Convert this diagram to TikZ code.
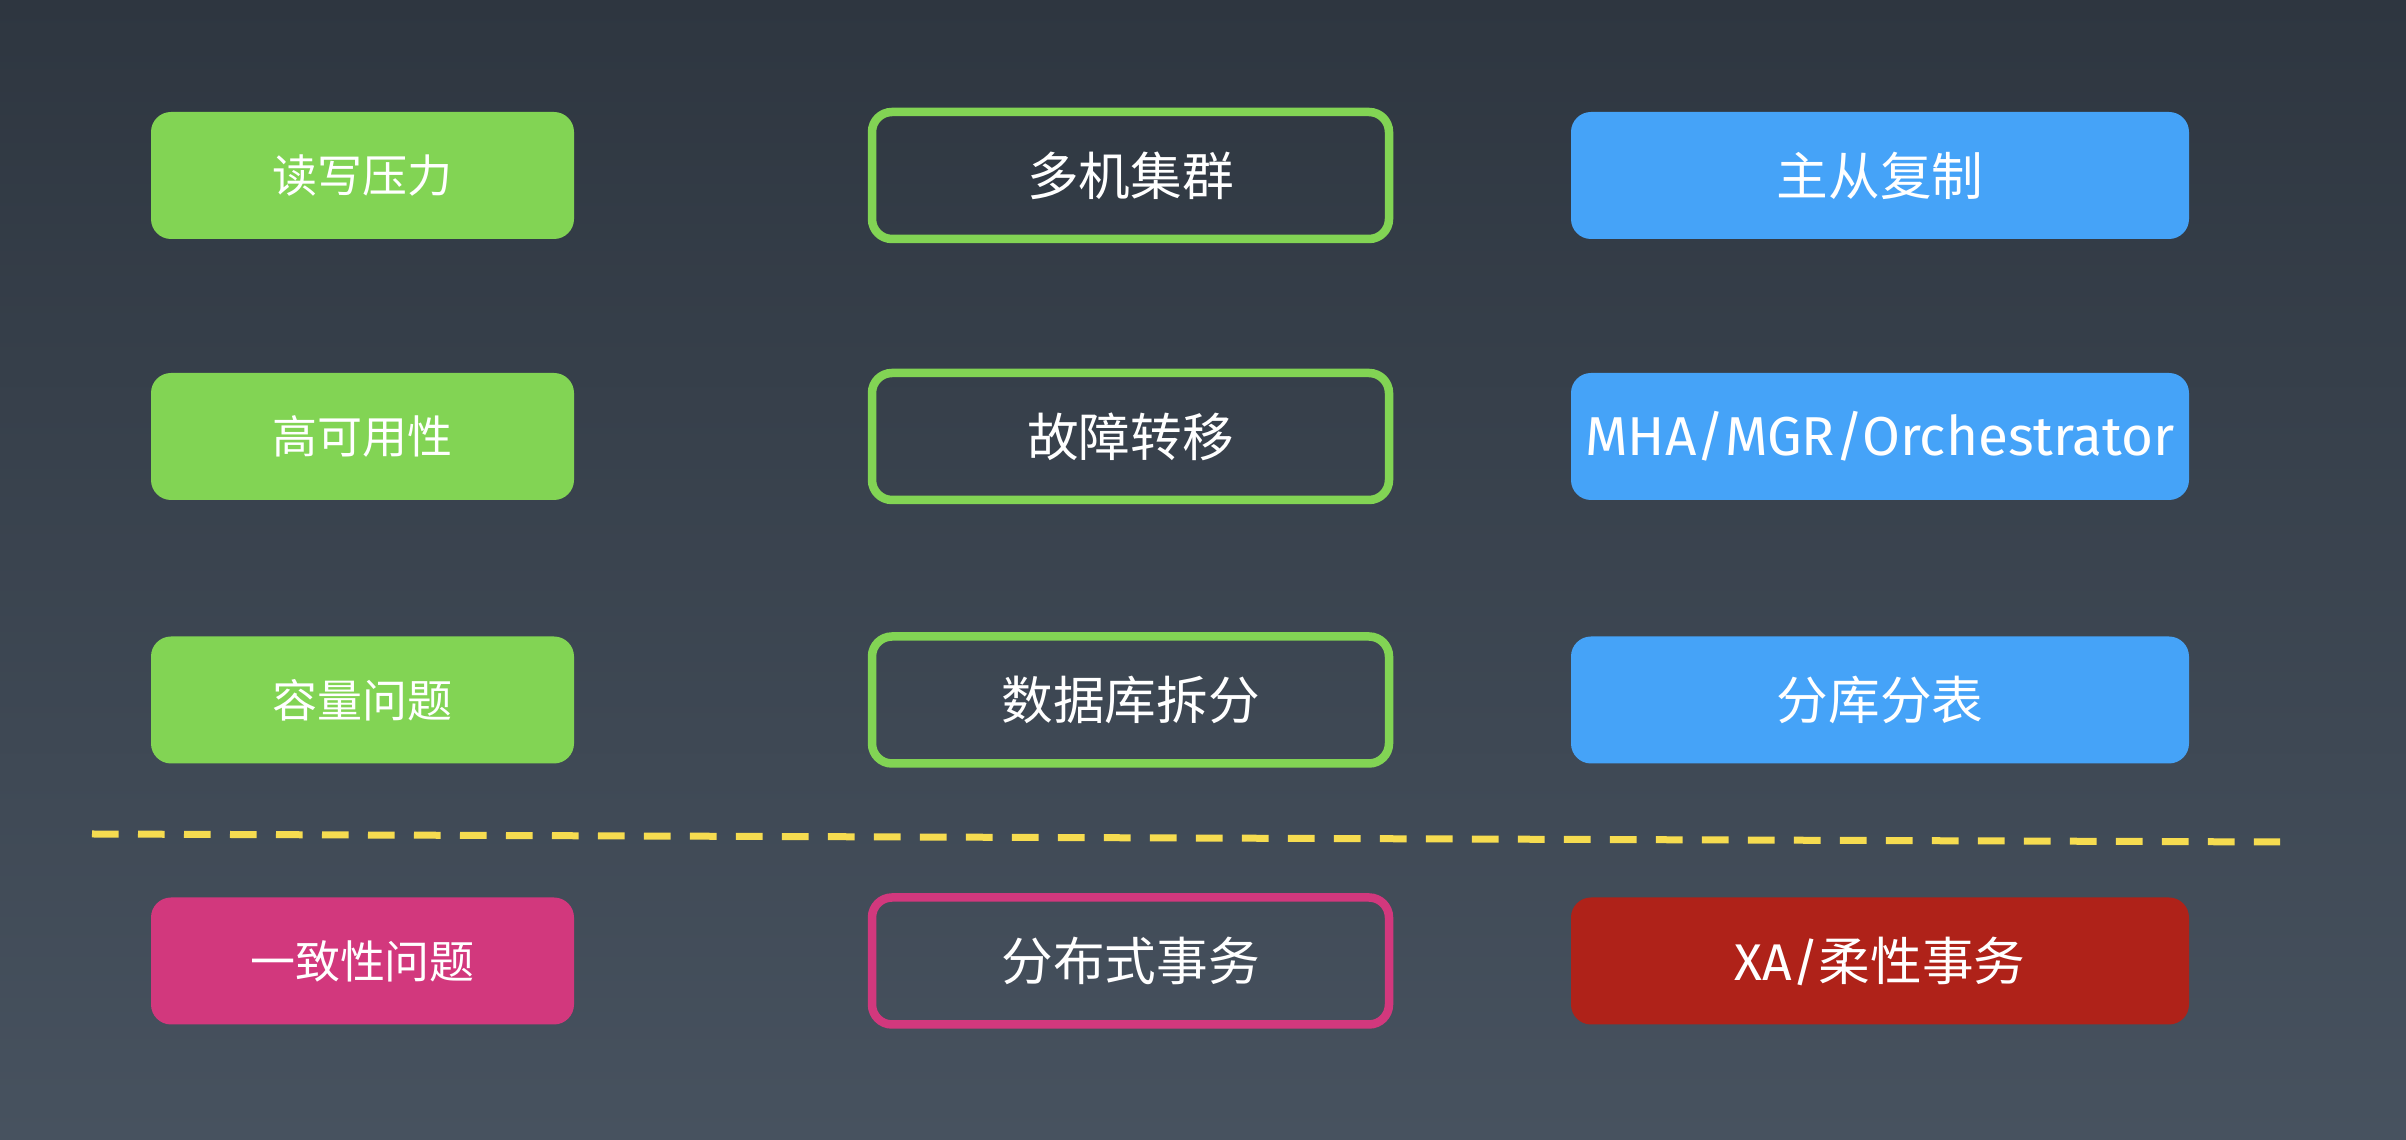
\documentclass[tikz,border=0pt]{standalone}
\usepackage{fontspec}
\setmainfont{Noto Sans CJK SC}
\newfontfamily\latinfont{Fira Sans}
\usetikzlibrary{positioning}

\definecolor{bgtop}{HTML}{2E3640}
\definecolor{bgbottom}{HTML}{47525F}
\definecolor{issuegreen}{HTML}{82D454}
\definecolor{answerblue}{HTML}{45A3F8}
\definecolor{issuepink}{HTML}{D2387D}
\definecolor{answerred}{HTML}{AF2219}
\definecolor{cutyellow}{HTML}{F6DC50}

\begin{document}
\begin{tikzpicture}[
    issue/.style={rectangle,rounded corners=2mm,fill=#1,text=white,inner sep=0pt,
      minimum width=4.23cm,minimum height=1.27cm,font=\fontsize{12.8}{15}\selectfont},
    method/.style={rectangle,rounded corners=2mm,draw=#1,line width=0.085cm,text=white,inner sep=0pt,
      minimum width=5.17cm,minimum height=1.27cm,font=\fontsize{14.7}{18}\selectfont},
    answer/.style={rectangle,rounded corners=2mm,fill=#1,text=white,inner sep=0pt,
      minimum width=6.18cm,minimum height=1.27cm,font=\fontsize{14.7}{18}\selectfont},
    cutline/.style={draw=cutyellow,line width=0.07cm,dash pattern=on 0.267cm off 0.193cm}
    ]

    \shade [top color=bgtop,bottom color=bgbottom] (0,0) rectangle (24.06,11.40);

    % three rows of scaling problems
    \node (issue1) [issue=issuegreen] at (3.625,9.645) {读写压力};
    \node (issue2) [issue=issuegreen] at (3.625,7.035) {高可用性};
    \node (issue3) [issue=issuegreen] at (3.625,4.40) {容量问题};

    \node (method1) [method=issuegreen] at (11.305,9.645) {多机集群};
    \node (method2) [method=issuegreen] at (11.305,7.035) {故障转移};
    \node (method3) [method=issuegreen] at (11.305,4.40) {数据库拆分};

    \node (answer1) [answer=answerblue] at (18.80,9.645) {主从复制};
    \node (answer2) [answer=answerblue] at (18.80,7.035) {\latinfont\fontsize{15.6}{18}\selectfont MHA/MGR/Orchestrator};
    \node (answer3) [answer=answerblue] at (18.80,4.40) {分库分表};

    % separator
    \coordinate (cutw) at (0.92,3.06);
    \coordinate (cute) at (22.80,2.98);
    \draw [cutline] (cutw) -- (cute);

    % consistency row
    \node (issue4) [issue=issuepink] at (3.625,1.79) {一致性问题};
    \node (method4) [method=issuepink] at (11.305,1.79) {分布式事务};
    \node (answer4) [answer=answerred] at (18.80,1.79) {{\latinfont XA/}柔性事务};

  \end{tikzpicture}
\end{document}
